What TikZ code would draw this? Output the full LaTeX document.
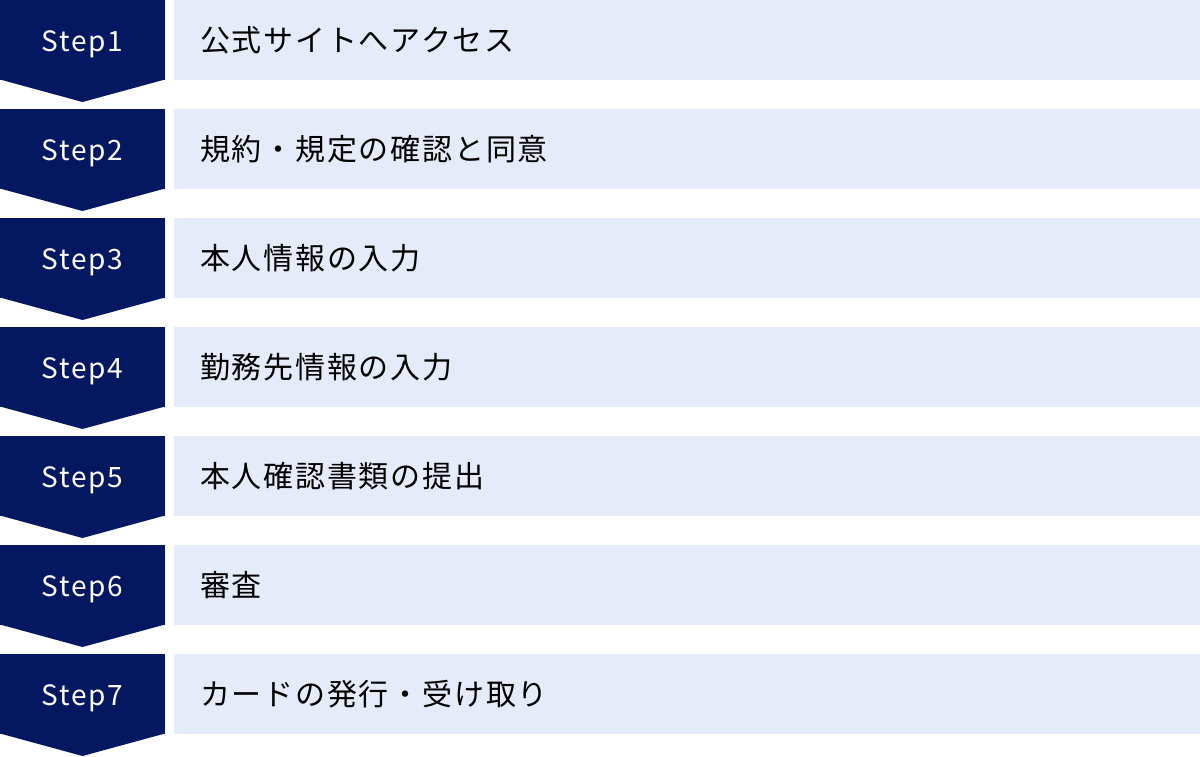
\documentclass[tikz,border=0pt]{standalone}
\usepackage{fontspec}
\setmainfont{Noto Sans CJK JP}
\usetikzlibrary{positioning}

\definecolor{stepnavy}{HTML}{041862}
\definecolor{rowblue}{HTML}{E5EBF8}

\begin{document}
\begin{tikzpicture}[x=1pt, y=1pt, outer sep=0pt,
    stepbox/.style = {fill=stepnavy, text=white, minimum width=165pt, minimum height=80pt,
      inner sep=0pt, text height=22pt, text depth=0pt,
      font=\fontsize{28}{28}\selectfont\addfontfeature{LetterSpace=6}},
    rowbox/.style = {fill=rowblue, text=black, minimum width=1026pt, minimum height=80pt,
      inner xsep=26pt, inner ysep=0pt, text width=974pt, align=left,
      font=\fontsize{30}{30}\selectfont\addfontfeature{LetterSpace=6}},
    tip/.style = {fill=stepnavy}]
  \useasboundingbox (0,0) rectangle (1200,-756);
  \node [stepbox, anchor=north west] (s1) at (0,0) {Step1};
  \node [stepbox, below=29pt of s1] (s2) {Step2};
  \node [stepbox, below=29pt of s2] (s3) {Step3};
  \node [stepbox, below=29pt of s3] (s4) {Step4};
  \node [stepbox, below=29pt of s4] (s5) {Step5};
  \node [stepbox, below=29pt of s5] (s6) {Step6};
  \node [stepbox, below=29pt of s6] (s7) {Step7};
  % arrow points under each step
  \foreach \s in {s1,s2,s3,s4,s5,s6,s7}
    \fill [tip] ([yshift=0.5pt]\s.south west) -- ([yshift=0.5pt]\s.south east)
      -- ([yshift=-22pt]\s.south) -- cycle;
  \node [rowbox, right=9pt of s1] (r1) {公式サイトへアクセス};
  \node [rowbox, right=9pt of s2] (r2) {規約・規定の確認と同意};
  \node [rowbox, right=9pt of s3] (r3) {本人情報の入力};
  \node [rowbox, right=9pt of s4] (r4) {勤務先情報の入力};
  \node [rowbox, right=9pt of s5] (r5) {本人確認書類の提出};
  \node [rowbox, right=9pt of s6] (r6) {審査};
  \node [rowbox, right=9pt of s7] (r7) {カードの発行・受け取り};
\end{tikzpicture}
\end{document}
